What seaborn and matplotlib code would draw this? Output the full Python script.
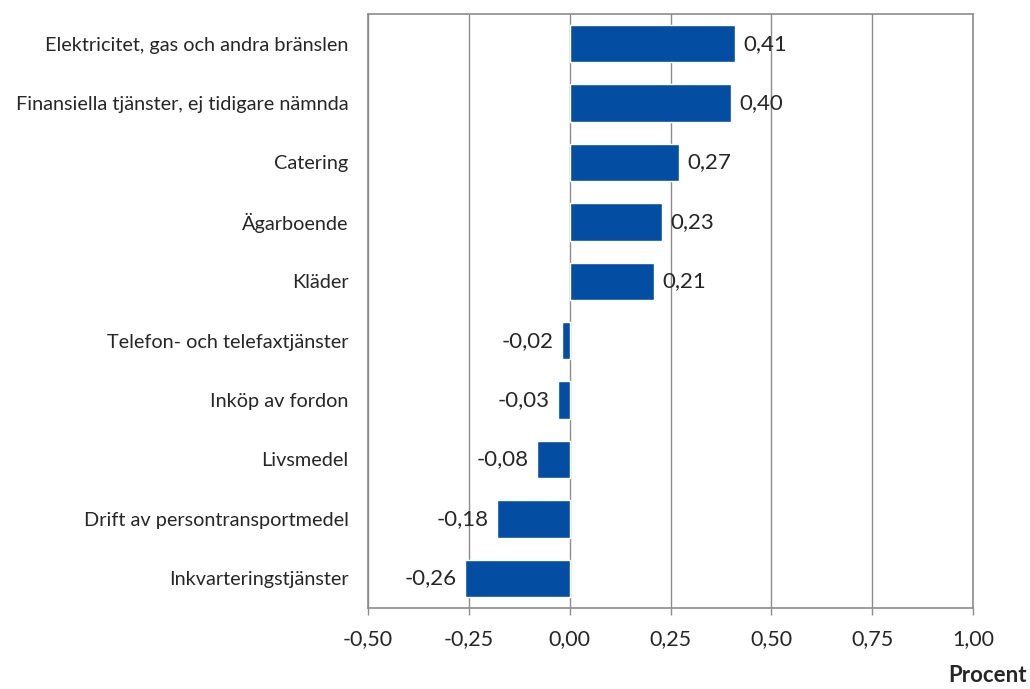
import matplotlib
matplotlib.use('Agg')
import matplotlib.pyplot as plt
import seaborn as sns
import pandas as pd

categories = [
    "Elektricitet, gas och andra bränslen",
    "Finansiella tjänster, ej tidigare nämnda",
    "Catering",
    "Ägarboende",
    "Kläder",
    "Telefon- och telefaxtjänster",
    "Inköp av fordon",
    "Livsmedel",
    "Drift av persontransportmedel",
    "Inkvarteringstjänster",
]
values = [0.41, 0.40, 0.27, 0.23, 0.21, -0.02, -0.03, -0.08, -0.18, -0.26]
xticks = [-0.50, -0.25, 0.00, 0.25, 0.50, 0.75, 1.00]

df = pd.DataFrame({"kategori": categories, "bidrag": values})

sns.set_style("white")
plt.rcParams['font.family'] = ['Lato', 'DejaVu Sans']

fig = plt.figure(figsize=(10.3, 6.89), dpi=100)
ax = fig.add_axes([0.3573, 0.1176, 0.5874, 0.8621])

sns.barplot(data=df, x="bidrag", y="kategori", orient="h", color="#034EA2",
            saturation=1, width=0.63, edgecolor="white", linewidth=1, ax=ax, zorder=3)

ax.set_xlim(-0.5, 1.0)
ax.set_xticks(xticks)
ax.set_xticklabels([f"{t:.2f}".replace(".", ",") for t in xticks], fontsize=15.5)
ax.xaxis.grid(True, color="#8c8c8c", linewidth=1, zorder=0)
ax.set_axisbelow(True)
ax.set_xlabel("")
ax.set_ylabel("")
ax.tick_params(axis="y", length=0, pad=14, labelsize=14.3)
ax.tick_params(axis="x", direction="out", length=5, width=1, color="#8c8c8c", pad=10, bottom=True)
for s in ax.spines.values():
    s.set_color("#8c8c8c")
    s.set_linewidth(1.2)

for i, v in enumerate(values):
    txt = f"{v:.2f}".replace(".", ",")
    if v >= 0:
        ax.annotate(txt, (v, i), xytext=(6, 0), textcoords="offset points",
                    ha="left", va="center", fontsize=16)
    else:
        ax.annotate(txt, (v, i), xytext=(-6, 0), textcoords="offset points",
                    ha="right", va="center", fontsize=16)

fig.text(0.997, 0.004, "Procent", ha="right", va="bottom", fontsize=16, fontweight="bold")

fig.savefig("out.png", dpi=100)
